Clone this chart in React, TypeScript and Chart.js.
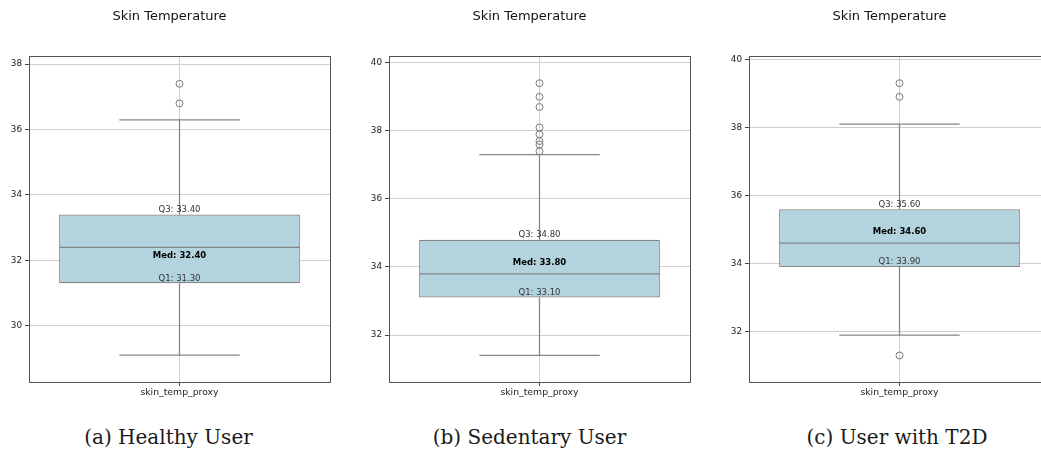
import React, { useEffect, useRef } from "react";
import { Chart, registerables } from "chart.js";

Chart.register(...registerables);

const panelTitles = ["Skin Temperature", "Skin Temperature", "Skin Temperature"];
const captions = ["(a) Healthy User", "(b) Sedentary User", "(c) User with T2D"];
const categories = ["skin_temp_proxy"];

const q1Values = [31.3, 33.1, 33.9];
const medianValues = [32.4, 33.8, 34.6];
const q3Values = [33.4, 34.8, 35.6];
const lowerWhiskers = [29.1, 31.4, 31.9];
const upperWhiskers = [36.3, 37.3, 38.1];
const meanValues = [32.13, 34.12, 34.93];

const outliersHealthy = [37.4, 36.8];
const outliersSedentary = [39.4, 39.0, 38.7, 38.1, 37.9, 37.7, 37.6, 37.4];
const outliersT2D = [39.3, 38.9, 31.3];

const yMins = [28.28, 30.62, 30.52];
const yMaxs = [38.25, 40.2, 40.1];
const yStep = 2;

const outlierSets = [outliersHealthy, outliersSedentary, outliersT2D];

const BOX_FILL = "#b3d4df";
const LINE_GRAY = "#858585";
const GRID = "#d0d0d0";
const FONT = '"DejaVu Sans", sans-serif';

const boxExtras = {
  id: "boxExtras",
  afterDatasetsDraw(chart: any, _args: any, opts: any) {
    const i = opts.index as number;
    const { ctx, chartArea } = chart;
    const x = chart.scales.x;
    const y = chart.scales.y;
    const bar = chart.getDatasetMeta(0).data[0] as any;
    const cx = x.getPixelForValue(0);
    const half = bar.width / 2;
    const py = (v: number) => y.getPixelForValue(v);
    const seg = (x1: number, y1: number, x2: number, y2: number) => {
      ctx.beginPath();
      ctx.moveTo(x1, y1);
      ctx.lineTo(x2, y2);
      ctx.stroke();
    };
    ctx.save();
    ctx.strokeStyle = LINE_GRAY;
    ctx.lineWidth = 1.25;
    // whiskers
    seg(cx, py(q3Values[i]), cx, py(upperWhiskers[i]));
    seg(cx, py(q1Values[i]), cx, py(lowerWhiskers[i]));
    // caps
    seg(cx - half / 2, py(upperWhiskers[i]), cx + half / 2, py(upperWhiskers[i]));
    seg(cx - half / 2, py(lowerWhiskers[i]), cx + half / 2, py(lowerWhiskers[i]));
    // median
    seg(cx - half, py(medianValues[i]), cx + half, py(medianValues[i]));

    // labels
    ctx.textAlign = "center";
    ctx.fillStyle = "#333";
    ctx.font = `8.5px ${FONT}`;
    ctx.textBaseline = "bottom";
    ctx.fillText(`Q3: ${q3Values[i].toFixed(2)}`, cx, py(q3Values[i]) - 0.5);
    ctx.fillText(`Q1: ${q1Values[i].toFixed(2)}`, cx, py(q1Values[i]) - 0.5);
    ctx.fillStyle = "#000";
    ctx.font = `bold 8.5px ${FONT}`;
    ctx.textBaseline = "middle";
    ctx.fillText(`Med: ${medianValues[i].toFixed(2)}`, cx, py(meanValues[i]));

    // frame
    ctx.strokeStyle = "#555";
    ctx.lineWidth = 1;
    ctx.strokeRect(
      Math.round(chartArea.left) + 0.5,
      Math.round(chartArea.top) + 0.5,
      Math.round(chartArea.right - chartArea.left),
      Math.round(chartArea.bottom - chartArea.top)
    );

    // title
    ctx.fillStyle = "#111";
    ctx.font = `13px ${FONT}`;
    ctx.textBaseline = "alphabetic";
    ctx.fillText(panelTitles[i], (chartArea.left + chartArea.right) / 2 - 10, 20);
    ctx.restore();
  },
};

function Panel({ index }: { index: number }) {
  const ref = useRef<HTMLCanvasElement | null>(null);
  useEffect(() => {
    if (!ref.current) return;
    const chart = new Chart(ref.current, {
      type: "bar",
      data: {
        labels: categories,
        datasets: [
          {
            type: "bar",
            data: [[q1Values[index], q3Values[index]]] as any,
            backgroundColor: BOX_FILL,
            borderColor: LINE_GRAY,
            borderWidth: 1.25,
            borderSkipped: false,
            barPercentage: 0.8,
            categoryPercentage: 1.0,
            order: 2,
          } as any,
          {
            type: "line",
            data: outlierSets[index].map((v) => ({ x: categories[0], y: v })) as any,
            showLine: false,
            pointRadius: 3.5,
            pointBackgroundColor: "rgba(0,0,0,0)",
            pointBorderColor: "#7a7a7a",
            pointBorderWidth: 1,
            order: 1,
          } as any,
        ],
      },
      options: {
        responsive: false,
        animation: false,
        devicePixelRatio: 1,
        layout: { padding: { top: 56, right: 30, bottom: 0, left: 0 } },
        plugins: {
          legend: { display: false },
          tooltip: { enabled: false },
          title: { display: false },
          boxExtras: { index },
        } as any,
        scales: {
          x: {
            type: "category",
            offset: true,
            grid: {
              offset: false,
              color: GRID,
              lineWidth: 1,
              tickColor: "#444",
              tickLength: 4,
            },
            border: { display: false },
            ticks: {
              color: "#222",
              font: { family: FONT, size: 9.3 },
              padding: 1,
              maxRotation: 0,
            },
            afterFit: (s: any) => {
              s.height = 18;
            },
          },
          y: {
            type: "linear",
            min: yMins[index],
            max: yMaxs[index],
            grid: {
              color: GRID,
              lineWidth: 1,
              tickColor: "#444",
              tickLength: 4,
            },
            border: { display: false },
            ticks: {
              stepSize: yStep,
              includeBounds: false,
              color: "#222",
              font: { family: FONT, size: 8.8 },
              padding: 3,
            },
            afterFit: (s: any) => {
              s.width = 29;
            },
          },
        } as any,
      },
      plugins: [boxExtras],
    });
    return () => chart.destroy();
  }, [index]);
  return (
    <canvas
      ref={ref}
      width={360}
      height={400}
      style={{ position: "absolute", left: index * 360, top: 0, width: 360, height: 400 }}
    />
  );
}

const captionCenters = [168.5, 529.5, 897];

export default function App() {
  return (
    <div
      style={{
        position: "fixed",
        left: 0,
        top: 0,
        width: 1041,
        height: 452,
        overflow: "hidden",
        background: "#fff",
      }}
    >
      {[0, 1, 2].map((i) => (
        <Panel key={i} index={i} />
      ))}
      {captions.map((c, i) => (
        <div
          key={c}
          style={{
            position: "absolute",
            left: captionCenters[i] - 150,
            width: 300,
            top: 427,
            textAlign: "center",
            fontFamily: '"DejaVu Serif", serif',
            fontSize: 20,
            lineHeight: "20px",
            color: "#1a1a1a",
            whiteSpace: "nowrap",
          }}
        >
          {c}
        </div>
      ))}
    </div>
  );
}
